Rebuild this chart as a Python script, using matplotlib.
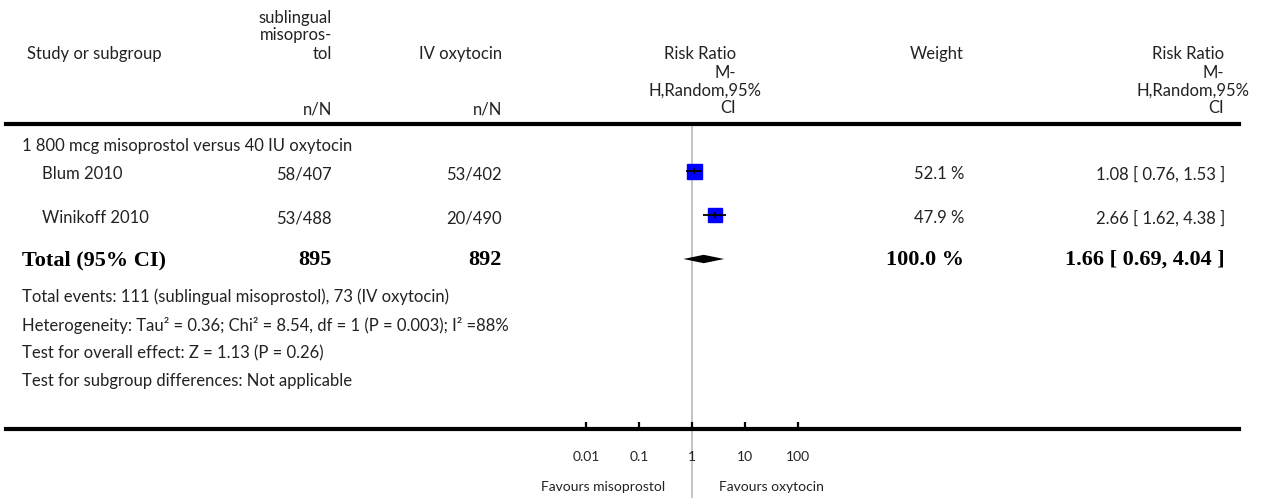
import matplotlib
matplotlib.use("Agg")
import matplotlib.pyplot as plt
import numpy as np

# ---- data ----
studies = ["Blum 2010", "Winikoff 2010"]
events_miso = [58, 53]
totals_miso = [407, 488]
events_oxy = [53, 20]
totals_oxy = [402, 490]
weights = [52.1, 47.9]
rr = [1.08, 2.66]
rr_lo = [0.76, 1.62]
rr_hi = [1.53, 4.38]

pooled_rr = 1.66
pooled_lo = 0.69
pooled_hi = 4.04
total_miso = 895
total_oxy = 892
total_weight = 100.0

subgroup_title = "1 800 mcg misoprostol versus 40 IU oxytocin"
footer_lines = [
    "Total events: 111 (sublingual misoprostol), 73 (IV oxytocin)",
    "Heterogeneity: Tau\u00b2 = 0.36; Chi\u00b2 = 8.54, df = 1 (P = 0.003); I\u00b2 =88%",
    "Test for overall effect: Z = 1.13 (P = 0.26)",
    "Test for subgroup differences: Not applicable",
]
tick_values = [0.01, 0.1, 1, 10, 100]
tick_labels = ["0.01", "0.1", "1", "10", "100"]
favours_left = "Favours misoprostol"
favours_right = "Favours oxytocin"

# ---- styling ----
W, H = 1266, 498
SANS = ["Lato", "DejaVu Sans"]
SERIF = ["Liberation Serif", "DejaVu Serif"]
TXT = "#222222"
FS = 12
FS_BOLD = 16
FS_AXIS = 10

fig = plt.figure(figsize=(W / 100, H / 100), dpi=100)
fig.patch.set_facecolor("white")

# overlay axes in pixel units for the table text
tx = fig.add_axes([0, 0, 1, 1])
tx.set_xlim(0, W)
tx.set_ylim(H, 0)
tx.axis("off")

def t(x, y, s, ha="left", bold=False, size=None, **kw):
    if bold:
        tx.text(x, y, s, ha=ha, va="center", fontsize=size or FS_BOLD,
                family=SERIF, fontweight="bold", color="black", **kw)
    else:
        tx.text(x, y, s, ha=ha, va="center", fontsize=size or FS,
                family=SANS, color=TXT, **kw)

# column anchors (pixels)
X_LEFT = 22
X_STUDY = 42
X_MISO = 332
X_OXY = 502
X_RR_HDR = 736
X_WEIGHT = 964
X_RR_TXT = 1225

# header
t(27, 54, "Study or subgroup")
t(X_MISO, 18, "sublingual", ha="right")
t(X_MISO, 35, "misopros-", ha="right")
t(X_MISO, 54, "tol", ha="right")
t(X_MISO, 109, "n/N", ha="right")
t(X_OXY, 54, "IV oxytocin", ha="right")
t(X_OXY, 109, "n/N", ha="right")
for xr in (X_RR_HDR, X_RR_TXT - 1):
    t(xr, 54, "Risk Ratio", ha="right")
    t(xr, 73, "M-", ha="right")
    t(xr + 26, 91, "H,Random,95%", ha="right")
    t(xr, 108, "CI", ha="right")
t(X_WEIGHT, 54, "Weight", ha="right")

# body rows
ROW_Y = [174, 218]
t(X_LEFT, 146, subgroup_title)
for i, name in enumerate(studies):
    y = ROW_Y[i]
    t(X_STUDY, y, name)
    t(X_MISO, y, f"{events_miso[i]}/{totals_miso[i]}", ha="right")
    t(X_OXY, y, f"{events_oxy[i]}/{totals_oxy[i]}", ha="right")
    t(X_WEIGHT, y, f"{weights[i]:.1f} %", ha="right")
    t(X_RR_TXT, y, f"{rr[i]:.2f} [ {rr_lo[i]:.2f}, {rr_hi[i]:.2f} ]", ha="right")

Y_TOTAL = 260
t(X_LEFT, Y_TOTAL, "Total (95% CI)", bold=True)
t(X_MISO, Y_TOTAL, f"{total_miso}", ha="right", bold=True)
t(X_OXY, Y_TOTAL, f"{total_oxy}", ha="right", bold=True)
t(X_WEIGHT, Y_TOTAL, f"{total_weight:.1f} %", ha="right", bold=True)
t(X_RR_TXT, Y_TOTAL,
  f"{pooled_rr:.2f} [ {pooled_lo:.2f}, {pooled_hi:.2f} ]", ha="right", bold=True)

for k, line in enumerate(footer_lines):
    t(X_LEFT, 297 + k * 28, line)

# ---- forest plot axes (log scale, 53 px per decade, RR=1 at x=692) ----
X0, X1 = 6, 1239
Y_HDR, Y_AX = 124, 429
PX_DEC, X_ONE = 53.0, 692.0
fa = fig.add_axes([X0 / W, (H - Y_AX) / H, (X1 - X0) / W, (Y_AX - Y_HDR) / H])
fa.set_facecolor("none")
fa.set_xscale("log")
fa.set_xlim(10 ** ((X0 - X_ONE) / PX_DEC), 10 ** ((X1 - X_ONE) / PX_DEC))
fa.set_ylim(Y_AX, Y_HDR)
for side in ("left", "right"):
    fa.spines[side].set_visible(False)
fa.spines["bottom"].set_linewidth(3)
fa.spines["top"].set_linewidth(3)
fa.set_yticks([])
fa.set_xticks(tick_values)
fa.set_xticklabels(tick_labels, family=SANS, fontsize=FS_AXIS, color=TXT)
fa.xaxis.set_minor_locator(matplotlib.ticker.NullLocator())
fa.tick_params(axis="x", direction="in", length=5, width=1.6, pad=16,
               top=False, color="black")

# line of no effect, running down through the favours labels
fa.axvline(1, ymin=-(H - Y_AX) / (Y_AX - Y_HDR), ymax=1, color="#c4c4c4",
           lw=1.4, clip_on=False, zorder=0)

# study estimates
max_w = max(weights)
for i in range(len(studies)):
    y = ROW_Y[i] - 3
    fa.plot([rr_lo[i], rr_hi[i]], [y, y], color="black", lw=1.3, zorder=3,
            solid_capstyle="butt")
    ms = 10.8 * np.sqrt(weights[i] / max_w)
    fa.plot([rr[i]], [y], marker="s", ms=ms, color="#0000ff", mec="#0000ff",
            zorder=2, linestyle="none")
    fa.plot([rr[i]], [y], marker="|", ms=4, mew=1.2, color="black", zorder=4,
            linestyle="none")

# pooled diamond
yd = Y_TOTAL - 1
half_h = 4.2
fa.fill([pooled_lo, pooled_rr, pooled_hi, pooled_rr],
        [yd, yd - half_h, yd, yd + half_h], color="black", lw=0, zorder=3)

# favours labels, either side of the line of no effect
for label, dx, ha in ((favours_left, -27, "right"), (favours_right, 27, "left")):
    fa.annotate(label, xy=(1, Y_AX), xycoords="data",
                xytext=(dx, -(487 - Y_AX)), textcoords="offset pixels",
                ha=ha, va="center", family=SANS, fontsize=FS_AXIS, color=TXT,
                annotation_clip=False)

fig.savefig("out.png", dpi=100, facecolor="white")
